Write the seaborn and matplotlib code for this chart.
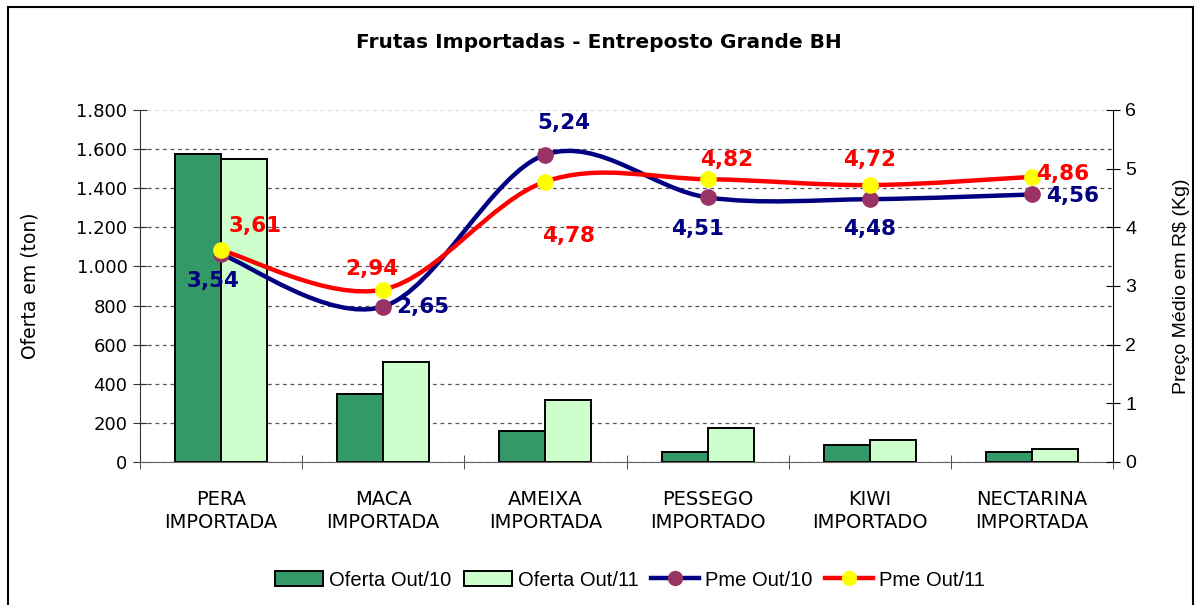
import numpy as np
import pandas as pd
import seaborn as sns
import matplotlib.pyplot as plt
from matplotlib.path import Path
from matplotlib.patches import PathPatch, Patch, Rectangle
from matplotlib.lines import Line2D
from matplotlib.ticker import FixedLocator, FuncFormatter

# dados
frutas = ["PERA\nIMPORTADA", "MACA\nIMPORTADA", "AMEIXA\nIMPORTADA",
          "PESSEGO\nIMPORTADO", "KIWI\nIMPORTADO", "NECTARINA\nIMPORTADA"]
oferta_out10 = [1575, 350, 160, 50, 85, 50]
oferta_out11 = [1550, 510, 318, 175, 115, 65]
pme_out10 = [3.54, 2.65, 5.24, 4.51, 4.48, 4.56]
pme_out11 = [3.61, 2.94, 4.78, 4.82, 4.72, 4.86]

# posicao dos rotulos (pixels, relativo ao ponto)
off10 = [(-8, -27), (40, 0), (18, 32), (-10, -32), (0, -30), (41, -2)]
off11 = [(34, 24), (-11, 21), (23, -54), (19, 19), (0, 25), (31, 3)]

verde = "#339966"
verde_claro = "#CCFFCC"
azul = "#000080"
roxo = "#993366"
vermelho = "#FF0000"
amarelo = "#FFFF00"

df = pd.DataFrame({
    "fruta": frutas * 2,
    "oferta": oferta_out10 + oferta_out11,
    "periodo": ["Oferta Out/10"] * 6 + ["Oferta Out/11"] * 6,
})


def linha_suave(xs, ys):
    # curva suavizada tipo Excel (bezier)
    pts = np.column_stack([xs, ys]).astype(float)
    n = len(pts)
    verts = [pts[0]]
    codes = [Path.MOVETO]
    for i in range(n - 1):
        p0 = pts[max(i - 1, 0)]
        p1 = pts[i]
        p2 = pts[i + 1]
        p3 = pts[min(i + 2, n - 1)]
        verts += [p1 + (p2 - p0) / 6, p2 - (p3 - p1) / 6, p2]
        codes += [Path.CURVE4] * 3
    return Path(verts, codes)


fig = plt.figure(figsize=(11.97, 6.05), dpi=100)
W, H = 1197, 605
ax = fig.add_axes([140 / W, 1 - 462 / H, 973 / W, 352 / H])

sns.barplot(data=df, x="fruta", y="oferta", hue="periodo",
            palette=[verde, verde_claro], saturation=1, width=0.568,
            edgecolor="black", linewidth=1.4, ax=ax, legend=False)

ax.set_ylim(0, 1800)
ax.set_yticks(range(0, 1801, 200))
ax.yaxis.set_major_formatter(FuncFormatter(lambda v, p: f"{int(v):,}".replace(",", ".")))
ax.set_axisbelow(True)
ax.yaxis.grid(True, linestyle=(0, (3, 3)), color="#555555", linewidth=0.9)
ax.get_ygridlines()[-1].set_color("#dddddd")
ax.set_xlim(-0.5, 5.5)
ax.set_xlabel("")
ax.set_ylabel("Oferta em (ton)", fontsize=13.5)
ax.yaxis.set_label_coords(-0.103, 0.5)
ax.tick_params(axis="x", which="major", length=0, labelsize=14, pad=20)
ax.xaxis.set_minor_locator(FixedLocator(np.arange(-0.5, 6, 1)))
ax.tick_params(axis="x", which="minor", direction="inout", length=10, color="#333333")
ax.tick_params(axis="y", direction="inout", length=10, labelsize=13, pad=4, color="#333333")
for lab in ax.get_xticklabels():
    lab.set_linespacing(1.3)
ax.spines["top"].set_visible(False)
ax.spines["right"].set_visible(False)
ax.spines["bottom"].set_color("#666666")
ax.spines["left"].set_color("#333333")

ax2 = ax.twinx()
ax2.set_ylim(0, 6)
ax2.set_yticks(range(0, 7))
ax2.tick_params(axis="y", direction="inout", length=10, labelsize=14, pad=4)
for lab in ax2.get_yticklabels():
    lab.set_family("Liberation Sans")
ax2.set_ylabel("Preço Médio em R$ (Kg)", fontsize=14, family="Liberation Sans")
ax2.yaxis.set_label_coords(1.062, 0.5)
for s in ["top", "bottom", "left"]:
    ax2.spines[s].set_visible(False)

xs = np.arange(len(frutas))
ax2.add_patch(PathPatch(linha_suave(xs, pme_out10), fill=False,
                        edgecolor=azul, linewidth=3.2, zorder=3))
ax2.add_patch(PathPatch(linha_suave(xs, pme_out11), fill=False,
                        edgecolor=vermelho, linewidth=3.2, zorder=4))
ax2.plot(xs, pme_out10, "o", ms=11, mfc=roxo, mec=roxo, zorder=5)
ax2.plot(xs, pme_out11, "o", ms=11, mfc=amarelo, mec=amarelo, zorder=6)

for x, v, o in zip(xs, pme_out10, off10):
    ax2.annotate(f"{v:.2f}".replace(".", ","), (x, v), xytext=o,
                 textcoords="offset pixels", ha="center", va="center",
                 color=azul, fontsize=15.5, fontweight="bold", zorder=7)
for x, v, o in zip(xs, pme_out11, off11):
    ax2.annotate(f"{v:.2f}".replace(".", ","), (x, v), xytext=o,
                 textcoords="offset pixels", ha="center", va="center",
                 color=vermelho, fontsize=15.5, fontweight="bold", zorder=7)

fig.text(0.5, 1 - 42 / H, "Frutas Importadas - Entreposto Grande BH",
         ha="center", va="center", fontsize=14.5, fontweight="bold")

handles = [
    Patch(facecolor=verde, edgecolor="black", linewidth=1.4),
    Patch(facecolor=verde_claro, edgecolor="black", linewidth=1.4),
    Line2D([], [], color=azul, lw=3.2, marker="o", ms=10, mfc=roxo, mec=roxo),
    Line2D([], [], color=vermelho, lw=3.2, marker="o", ms=10, mfc=amarelo, mec=amarelo),
]
fig.legend(handles, ["Oferta Out/10", "Oferta Out/11", "Pme Out/10", "Pme Out/11"],
           loc="center", bbox_to_anchor=(630 / W, 1 - 580 / H), ncol=4, frameon=False,
           prop={"family": "Liberation Sans", "size": 14.5}, handlelength=2.4,
           handleheight=0.75, handletextpad=0.3, columnspacing=0.6)

fig.add_artist(Rectangle((8 / W, -0.05), 1185 / W, 1.05 - 7 / H,
                         transform=fig.transFigure, fill=False,
                         edgecolor="black", linewidth=1.5))

fig.savefig("out.png", dpi=100, facecolor="white")
